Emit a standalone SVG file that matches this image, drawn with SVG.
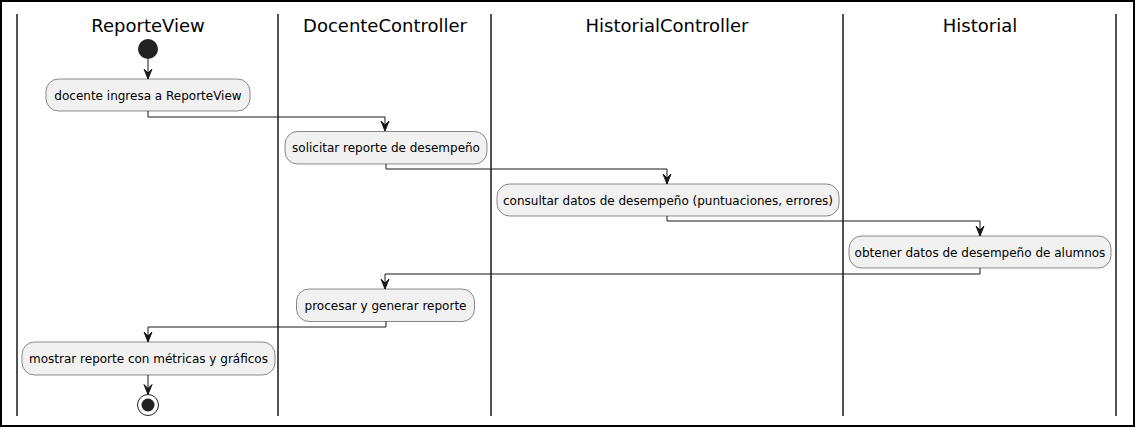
<svg xmlns="http://www.w3.org/2000/svg" width="1136" height="428" viewBox="0 0 1136 428">
<style>
.frame{fill:#ffffff;stroke:#000000;stroke-width:2}
.lane{stroke:#181818;stroke-width:1.5}
.hdr{font-family:"DejaVu Sans",sans-serif;font-size:18px;fill:#000000;text-anchor:middle}
.act rect{fill:#F1F1F1;stroke:#181818;stroke-width:0.5}
.act text{font-family:"DejaVu Sans",sans-serif;font-size:12px;fill:#000000;text-anchor:middle}
.conn path{fill:none;stroke:#181818;stroke-width:1}
.conn polygon{fill:#181818;stroke:#181818;stroke-width:1}
</style>
<rect class="frame" x="1" y="1" width="1133" height="425"/>
<g id="lanes">
<line class="lane" x1="17" y1="14" x2="17" y2="416"/>
<line class="lane" x1="278" y1="14" x2="278" y2="416"/>
<line class="lane" x1="491" y1="14" x2="491" y2="416"/>
<line class="lane" x1="843" y1="14" x2="843" y2="416"/>
<line class="lane" x1="1116" y1="14" x2="1116" y2="416"/>
<text class="hdr" x="148" y="32">ReporteView</text>
<text class="hdr" x="385" y="32">DocenteController</text>
<text class="hdr" x="667" y="32">HistorialController</text>
<text class="hdr" x="980" y="32">Historial</text>
</g>
<g id="start"><circle cx="148" cy="49" r="10" fill="#222222"/></g>
<g id="n1" class="act"><rect x="46" y="79" width="204" height="32" rx="12.5"/><text x="148" y="99.5">docente ingresa a ReporteView</text></g>
<g id="n2" class="act"><rect x="285" y="131.5" width="202" height="32.5" rx="12.5"/><text x="386" y="152">solicitar reporte de desempeño</text></g>
<g id="n3" class="act"><rect x="497" y="184" width="342" height="32" rx="12.5"/><text x="668" y="204.5">consultar datos de desempeño (puntuaciones, errores)</text></g>
<g id="n4" class="act"><rect x="849" y="236" width="262" height="32" rx="12.5"/><text x="980" y="256.5">obtener datos de desempeño de alumnos</text></g>
<g id="n5" class="act"><rect x="296.5" y="289" width="178" height="32.5" rx="12.5"/><text x="385.5" y="309.5">procesar y generar reporte</text></g>
<g id="n6" class="act"><rect x="22" y="342" width="253" height="33" rx="12.5"/><text x="148.5" y="362.5">mostrar reporte con métricas y gráficos</text></g>
<g id="end"><circle cx="148" cy="405" r="10.5" fill="none" stroke="#222222" stroke-width="1"/><circle cx="148" cy="405" r="6.5" fill="#222222"/></g>
<g id="connectors" class="conn">
<path d="M148,59 V79"/><polygon points="144,69 148,79 152,69 148,73"/>
<path d="M148,111 V117 H385 V131"/><polygon points="381,121 385,131 389,121 385,125"/>
<path d="M386,164 V169 H667 V184"/><polygon points="663,174 667,184 671,174 667,178"/>
<path d="M667,216 V221 H980 V236"/><polygon points="976,226 980,236 984,226 980,230"/>
<path d="M980,268 V274 H385 V289"/><polygon points="381,279 385,289 389,279 385,283"/>
<path d="M386,321.5 V327 H148 V342"/><polygon points="144,332 148,342 152,332 148,336"/>
<path d="M148,375 V394.5"/><polygon points="144,384.5 148,394.5 152,384.5 148,388.5"/>
</g>
</svg>
